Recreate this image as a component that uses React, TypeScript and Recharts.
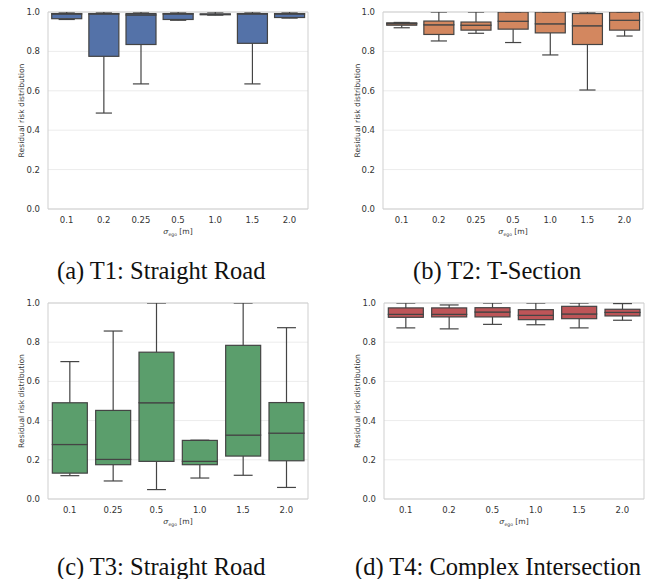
import { BarChart, Bar, XAxis, YAxis, CartesianGrid, Label } from 'recharts';

// T1: straight road
const t1Cats = ['0.1', '0.2', '0.25', '0.5', '1.0', '1.5', '2.0'];
const t1Min = [0.962, 0.487, 0.635, 0.958, 0.984, 0.635, 0.969];
const t1Q1 = [0.966, 0.775, 0.835, 0.962, 0.986, 0.841, 0.972];
const t1Med = [0.99, 0.99, 0.985, 0.99, 0.989, 0.99, 0.99];
const t1Q3 = [0.992, 0.992, 0.992, 0.992, 0.99, 0.992, 0.992];
const t1Max = [1.0, 1.0, 1.0, 1.0, 1.0, 1.0, 1.0];

// T2: T-section
const t2Cats = ['0.1', '0.2', '0.25', '0.5', '1.0', '1.5', '2.0'];
const t2Min = [0.92, 0.853, 0.892, 0.845, 0.782, 0.604, 0.878];
const t2Q1 = [0.933, 0.886, 0.908, 0.913, 0.894, 0.835, 0.908];
const t2Med = [0.941, 0.935, 0.933, 0.953, 0.94, 0.93, 0.958];
const t2Q3 = [0.945, 0.954, 0.949, 1.0, 1.0, 0.992, 1.0];
const t2Max = [0.947, 1.0, 1.0, 1.0, 1.0, 1.0, 1.0];

// T3: straight road
const t3Cats = ['0.1', '0.25', '0.5', '1.0', '1.5', '2.0'];
const t3Min = [0.119, 0.092, 0.048, 0.107, 0.121, 0.059];
const t3Q1 = [0.132, 0.175, 0.192, 0.175, 0.219, 0.195];
const t3Med = [0.278, 0.202, 0.491, 0.192, 0.326, 0.336];
const t3Q3 = [0.491, 0.452, 0.749, 0.299, 0.784, 0.492];
const t3Max = [0.701, 0.857, 1.0, 0.3, 1.0, 0.874];

// T4: complex intersection
const t4Cats = ['0.1', '0.2', '0.5', '1.0', '1.5', '2.0'];
const t4Min = [0.873, 0.868, 0.891, 0.889, 0.873, 0.912];
const t4Q1 = [0.927, 0.929, 0.929, 0.915, 0.92, 0.934];
const t4Med = [0.942, 0.942, 0.954, 0.937, 0.944, 0.952];
const t4Q3 = [0.975, 0.975, 0.976, 0.966, 0.983, 0.968];
const t4Max = [1.0, 0.99, 1.0, 1.0, 1.0, 0.997];

const yTicks = [0, 0.2, 0.4, 0.6, 0.8, 1.0];

const LINE = '#444444';
const TICK_FONT = { fontFamily: 'DejaVu Sans', fontSize: 8.5, fill: '#333333' };

const buildRows = (cats: string[], mn: number[], q1: number[], med: number[], q3: number[], mx: number[]) =>
  cats.map((cat, i) => ({
    cat,
    base: mn[i],
    wLow: q1[i] - mn[i],
    boxLow: med[i] - q1[i],
    boxHigh: q3[i] - med[i],
    wHigh: mx[i] - q3[i],
  }));

const Empty = () => <g />;

const WhiskerLow = (p: any) => {
  const cx = p.x + p.width / 2;
  const cap = p.width * 0.27;
  const yb = p.y + p.height;
  return (
    <g>
      <line x1={cx} x2={cx} y1={p.y} y2={yb} stroke={LINE} strokeWidth={1.2} />
      <line x1={cx - cap} x2={cx + cap} y1={yb} y2={yb} stroke={LINE} strokeWidth={1.2} />
    </g>
  );
};

const WhiskerHigh = (p: any) => {
  const cx = p.x + p.width / 2;
  const cap = p.width * 0.27;
  return (
    <g>
      <line x1={cx} x2={cx} y1={p.y} y2={p.y + p.height} stroke={LINE} strokeWidth={1.2} />
      <line x1={cx - cap} x2={cx + cap} y1={p.y} y2={p.y} stroke={LINE} strokeWidth={1.2} />
    </g>
  );
};

const boxShape = (color: string) => (p: any) => (
  <rect x={p.x} y={p.y} width={p.width} height={Math.max(p.height, 0)} fill={color} stroke={LINE} strokeWidth={1.2} />
);

const YLabel = ({ viewBox, cx }: any) => {
  if (!viewBox) return null;
  const x = viewBox.x + cx;
  const y = viewBox.y + viewBox.height / 2;
  return (
    <text x={x} y={y} transform={`rotate(-90 ${x} ${y})`} textAnchor="middle" dominantBaseline="central"
      fontFamily="DejaVu Sans" fontSize={7.6} fill="#333333">
      Residual risk distribution
    </text>
  );
};

const XLabel = ({ viewBox }: any) => {
  if (!viewBox) return null;
  const x = viewBox.x + viewBox.width / 2;
  const y = viewBox.y + 25;
  return (
    <text x={x} y={y} textAnchor="middle" fontFamily="DejaVu Sans" fontSize={7.6} fill="#333333">
      <tspan fontFamily="DejaVu Serif" fontStyle="italic">σ</tspan>
      <tspan fontSize={4.5} dy={1.5}>ego</tspan>
      <tspan dy={-1.5}> [m]</tspan>
    </text>
  );
};

type PanelProps = {
  rows: any[];
  color: string;
  left: number;
  top: number;
  axisW: number;
  labelX: number;
  marginTop: number;
};

const BoxPanel = ({ rows, color, left, top, axisW, labelX, marginTop }: PanelProps) => (
  <div style={{ position: 'absolute', left, top }}>
    <BarChart width={axisW + 260 + 13} height={245} data={rows} barCategoryGap="10%"
      margin={{ top: marginTop, right: 13, bottom: 0, left: 0 }}>
      <CartesianGrid vertical={false} stroke="#ececec" />
      <CartesianGrid
        stroke="#cfcfcf"
        horizontalCoordinatesGenerator={({ offset }: any) => [offset.top, offset.top + offset.height]}
        verticalCoordinatesGenerator={({ offset }: any) => [offset.left, offset.left + offset.width]}
      />
      <XAxis dataKey="cat" type="category" interval={0} axisLine={false} tickLine={false} height={36} tick={TICK_FONT}>
        <Label content={<XLabel />} />
      </XAxis>
      <YAxis type="number" domain={[0, 1]} ticks={yTicks} allowDataOverflow width={axisW}
        axisLine={false} tickLine={false} tick={TICK_FONT} tickFormatter={(v: number) => v.toFixed(1)}>
        <Label content={<YLabel cx={labelX} />} />
      </YAxis>
      <Bar dataKey="base" stackId="b" shape={<Empty />} isAnimationActive={false} />
      <Bar dataKey="wLow" stackId="b" shape={WhiskerLow} isAnimationActive={false} />
      <Bar dataKey="boxLow" stackId="b" shape={boxShape(color)} isAnimationActive={false} />
      <Bar dataKey="boxHigh" stackId="b" shape={boxShape(color)} isAnimationActive={false} />
      <Bar dataKey="wHigh" stackId="b" shape={WhiskerHigh} isAnimationActive={false} />
    </BarChart>
  </div>
);

const captionStyle = (left: number, top: number): React.CSSProperties => ({
  position: 'absolute',
  left,
  top,
  fontFamily: '"Liberation Serif", "Times New Roman", serif',
  fontSize: 24.5,
  color: '#111',
  whiteSpace: 'nowrap',
  lineHeight: 1,
});

export default function App() {
  const rows1 = buildRows(t1Cats, t1Min, t1Q1, t1Med, t1Q3, t1Max);
  const rows2 = buildRows(t2Cats, t2Min, t2Q1, t2Med, t2Q3, t2Max);
  const rows3 = buildRows(t3Cats, t3Min, t3Q1, t3Med, t3Q3, t3Max);
  const rows4 = buildRows(t4Cats, t4Min, t4Q1, t4Med, t4Q3, t4Max);
  return (
    <div style={{ position: 'absolute', left: 0, top: 0, width: 656, height: 579, background: '#fff', overflow: 'hidden' }}>
      <BoxPanel rows={rows1} color="#5472a8" left={0} top={0} axisW={48} labelX={21} marginTop={12} />
      <BoxPanel rows={rows2} color="#d3875f" left={328} top={0} axisW={55} labelX={29} marginTop={12} />
      <BoxPanel rows={rows3} color="#5b9e6c" left={0} top={290} axisW={48} labelX={21} marginTop={13} />
      <BoxPanel rows={rows4} color="#bd5558" left={328} top={290} axisW={56} labelX={29} marginTop={13} />
      <div style={captionStyle(57, 259)}>(a) T1: Straight Road</div>
      <div style={captionStyle(413, 259)}>(b) T2: T-Section</div>
      <div style={captionStyle(57, 555)}>(c) T3: Straight Road</div>
      <div style={captionStyle(355, 555)}>(d) T4: Complex Intersection</div>
    </div>
  );
}
